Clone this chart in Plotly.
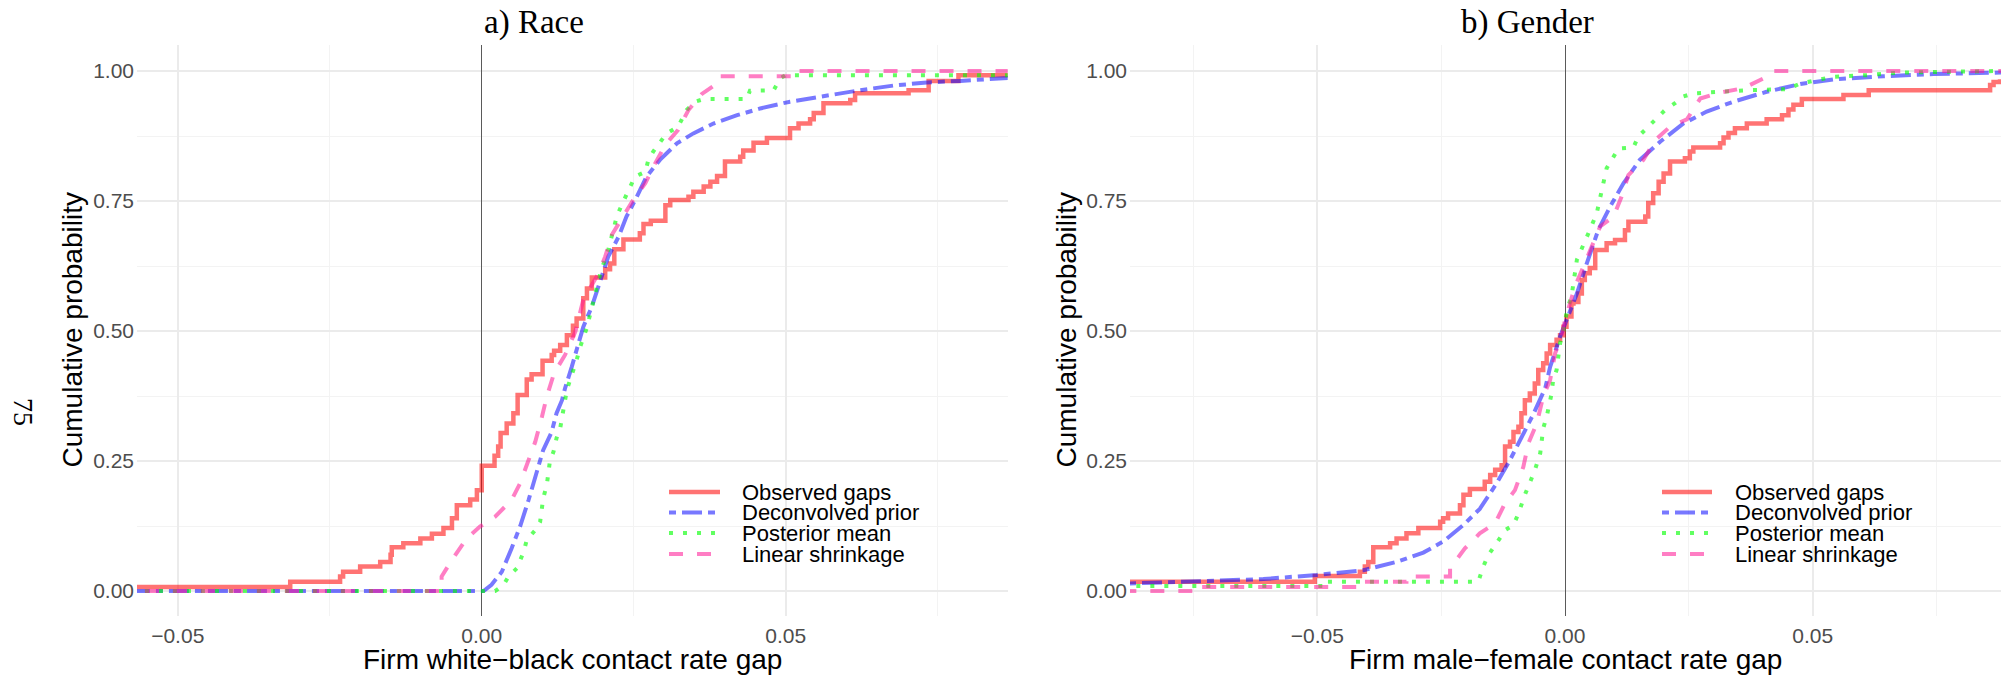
import plotly.graph_objects as go

# ---------------- data ----------------
series_names = ["Observed gaps", "Deconvolved prior", "Posterior mean", "Linear shrinkage"]

# a) Race : firm white-black contact rate gap
race_obs_x = [-0.060, -0.0315, -0.0233, -0.0228, -0.0200, -0.0167, -0.0150, -0.0148, -0.0129, -0.0101,
              -0.0082, -0.0063, -0.0049, -0.0041, -0.0019, -0.0008, 0.0000, 0.0021, 0.0027, 0.0031,
              0.0041, 0.0052, 0.0059, 0.0074, 0.0082, 0.0100, 0.0115, 0.0119, 0.0129, 0.0140,
              0.0150, 0.0156, 0.0167, 0.0173, 0.0181, 0.0203, 0.0211, 0.0218, 0.0233, 0.0260,
              0.0266, 0.0278, 0.0302, 0.0310, 0.0340, 0.0348, 0.0365, 0.0376, 0.0387, 0.0400,
              0.0425, 0.0430, 0.0447, 0.0469, 0.0507, 0.0521, 0.0540, 0.0546, 0.0562, 0.0606,
              0.0614, 0.0702, 0.0735, 0.0784, 0.0900]
race_obs_y = [0.008, 0.018, 0.028, 0.037, 0.047, 0.056, 0.070, 0.084, 0.092, 0.101,
              0.110, 0.121, 0.140, 0.165, 0.176, 0.194, 0.241, 0.260, 0.278, 0.304,
              0.322, 0.342, 0.377, 0.407, 0.417, 0.443, 0.454, 0.462, 0.473, 0.492,
              0.510, 0.524, 0.563, 0.582, 0.603, 0.619, 0.630, 0.657, 0.676, 0.688,
              0.706, 0.712, 0.742, 0.752, 0.758, 0.768, 0.778, 0.787, 0.798, 0.826,
              0.835, 0.847, 0.862, 0.871, 0.890, 0.899, 0.907, 0.919, 0.938, 0.944,
              0.957, 0.963, 0.981, 0.992, 0.992]

race_prior_x = [-0.060, 0.0003, 0.0016, 0.0033, 0.0049, 0.0063, 0.0077, 0.0090, 0.0101, 0.0115,
                0.0123, 0.0132, 0.0137, 0.0148, 0.0159, 0.0167, 0.0181, 0.0197, 0.0208, 0.0225,
                0.0238, 0.0255, 0.0271, 0.0293, 0.0321, 0.0348, 0.0381, 0.0420, 0.0458, 0.0507,
                0.0562, 0.0622, 0.0677, 0.0732, 0.0787, 0.0869]
race_prior_y = [0.0, 0.0, 0.012, 0.037, 0.082, 0.124, 0.175, 0.226, 0.271, 0.306,
                0.342, 0.367, 0.390, 0.431, 0.476, 0.508, 0.547, 0.604, 0.643, 0.681,
                0.720, 0.758, 0.797, 0.829, 0.861, 0.880, 0.899, 0.915, 0.928, 0.941,
                0.952, 0.963, 0.972, 0.978, 0.981, 0.987]

race_post_x = [-0.060, 0.0022, 0.0036, 0.0044, 0.0058, 0.0069, 0.0074, 0.0088, 0.0096, 0.0099,
               0.0101, 0.0107, 0.0112, 0.0118, 0.0123, 0.0129, 0.0137, 0.0140, 0.0156, 0.0162,
               0.0173, 0.0195, 0.0208, 0.0222, 0.0230, 0.0238, 0.0252, 0.0269, 0.0274, 0.0282,
               0.0304, 0.0323, 0.0337, 0.0351, 0.0365, 0.0436, 0.0441, 0.0480, 0.0491, 0.0500,
               0.0900]
race_post_y = [0.0, 0.0, 0.012, 0.028, 0.044, 0.076, 0.098, 0.117, 0.133, 0.156,
               0.178, 0.204, 0.249, 0.268, 0.294, 0.313, 0.361, 0.387, 0.444, 0.470,
               0.507, 0.611, 0.656, 0.720, 0.742, 0.762, 0.797, 0.806, 0.829, 0.845,
               0.880, 0.893, 0.925, 0.941, 0.946, 0.946, 0.962, 0.963, 0.986, 0.992,
               0.992]

race_lin_x = [-0.060, -0.0066, -0.0066, -0.0049, -0.0025, -0.0003, 0.0022, 0.0049, 0.0063, 0.0077,
              0.0088, 0.0099, 0.0107, 0.0119, 0.0137, 0.0154, 0.0167, 0.0192, 0.0203, 0.0214,
              0.0233, 0.0249, 0.0269, 0.0285, 0.0302, 0.0323, 0.0340, 0.0362, 0.0387, 0.0392,
              0.0513, 0.0513, 0.0900]
race_lin_y = [0.0, 0.0, 0.028, 0.060, 0.101, 0.124, 0.143, 0.175, 0.207, 0.249,
              0.287, 0.335, 0.374, 0.419, 0.454, 0.499, 0.560, 0.611, 0.643, 0.685,
              0.720, 0.752, 0.784, 0.822, 0.858, 0.887, 0.925, 0.956, 0.976, 0.990,
              0.990, 1.0, 1.0]

# b) Gender : firm male-female contact rate gap
gen_obs_x = [-0.095, -0.0505, -0.0414, -0.0404, -0.0397, -0.0387, -0.0353, -0.0340, -0.0320, -0.0296,
             -0.0252, -0.0246, -0.0236, -0.0212, -0.0205, -0.0192, -0.0162, -0.0151, -0.0141, -0.0128,
             -0.0121, -0.0111, -0.0104, -0.0094, -0.0088, -0.0081, -0.0071, -0.0061, -0.0054, -0.0044,
             -0.0037, -0.0030, -0.0017, -0.0010, -0.0003, 0.0003, 0.0013, 0.0017, 0.0027, 0.0034,
             0.0040, 0.0050, 0.0061, 0.0084, 0.0101, 0.0121, 0.0128, 0.0162, 0.0168, 0.0178,
             0.0189, 0.0199, 0.0212, 0.0242, 0.0252, 0.0259, 0.0313, 0.0320, 0.0330, 0.0343,
             0.0367, 0.0407, 0.0438, 0.0451, 0.0461, 0.0478, 0.0562, 0.0613, 0.0858, 0.0865,
             0.0878]
gen_obs_y = [0.018, 0.029, 0.037, 0.047, 0.056, 0.084, 0.092, 0.101, 0.111, 0.121,
             0.133, 0.140, 0.149, 0.165, 0.185, 0.196, 0.210, 0.223, 0.233, 0.242,
             0.278, 0.287, 0.306, 0.316, 0.342, 0.367, 0.380, 0.399, 0.425, 0.438,
             0.457, 0.473, 0.483, 0.492, 0.508, 0.528, 0.553, 0.556, 0.572, 0.598,
             0.611, 0.621, 0.656, 0.669, 0.675, 0.694, 0.710, 0.720, 0.746, 0.765,
             0.787, 0.803, 0.826, 0.832, 0.845, 0.853, 0.861, 0.872, 0.881, 0.890,
             0.899, 0.907, 0.915, 0.926, 0.935, 0.946, 0.954, 0.963, 0.973, 0.979,
             0.984]

gen_prior_x = [-0.0880, -0.0744, -0.0609, -0.0501, -0.0407, -0.0340, -0.0286, -0.0246, -0.0205, -0.0172,
               -0.0138, -0.0111, -0.0084, -0.0064, -0.0040, -0.0030, -0.0010, 0.0000, 0.0024, 0.0044,
               0.0067, 0.0091, 0.0118, 0.0151, 0.0192, 0.0239, 0.0286, 0.0340, 0.0407, 0.0475,
               0.0542, 0.0643, 0.0744, 0.0880]
gen_prior_y = [0.0145, 0.018, 0.023, 0.031, 0.040, 0.056, 0.074, 0.095, 0.127, 0.158,
               0.207, 0.252, 0.303, 0.340, 0.390, 0.431, 0.489, 0.515, 0.572, 0.630,
               0.694, 0.739, 0.784, 0.829, 0.864, 0.899, 0.922, 0.941, 0.960, 0.975,
               0.984, 0.990, 0.994, 0.997]

gen_post_x = [-0.0950, -0.0481, -0.0481, -0.0175, -0.0165, -0.0155, -0.0138, -0.0121, -0.0104, -0.0094,
              -0.0081, -0.0061, -0.0050, -0.0044, -0.0037, -0.0027, -0.0024, -0.0017, -0.0010, -0.0003,
              0.0005, 0.0013, 0.0024, 0.0040, 0.0050, 0.0064, 0.0071, 0.0077, 0.0084, 0.0108,
              0.0138, 0.0148, 0.0175, 0.0202, 0.0222, 0.0239, 0.0259, 0.0313, 0.0367, 0.0448,
              0.0475, 0.0542, 0.0609, 0.0677, 0.0880]
gen_post_y = [0.0096, 0.0096, 0.018, 0.018, 0.047, 0.069, 0.092, 0.117, 0.127, 0.149,
              0.185, 0.232, 0.265, 0.313, 0.335, 0.380, 0.406, 0.425, 0.476, 0.502,
              0.544, 0.566, 0.637, 0.675, 0.694, 0.726, 0.758, 0.778, 0.813, 0.851,
              0.853, 0.874, 0.899, 0.925, 0.938, 0.951, 0.957, 0.960, 0.963, 0.965,
              0.976, 0.989, 0.992, 0.997, 1.0]

gen_lin_x = [-0.0950, -0.0737, -0.0737, -0.0414, -0.0414, -0.0320, -0.0320, -0.0232, -0.0232, -0.0202,
             -0.0172, -0.0141, -0.0121, -0.0101, -0.0084, -0.0074, -0.0057, -0.0044, -0.0030, -0.0020,
             -0.0007, 0.0000, 0.0020, 0.0037, 0.0054, 0.0071, 0.0098, 0.0114, 0.0128, 0.0158,
             0.0182, 0.0212, 0.0246, 0.0273, 0.0306, 0.0360, 0.0401, 0.0421, 0.0900]
gen_lin_y = [0.0, 0.0, 0.008, 0.008, 0.018, 0.018, 0.028, 0.028, 0.044, 0.082,
             0.111, 0.130, 0.169, 0.194, 0.239, 0.284, 0.322, 0.374, 0.406, 0.457,
             0.489, 0.521, 0.585, 0.624, 0.662, 0.701, 0.720, 0.758, 0.800, 0.829,
             0.867, 0.893, 0.907, 0.947, 0.957, 0.967, 0.986, 1.0, 1.0]

panel_titles = ["a) Race", "b) Gender"]
x_titles = ["Firm white\u2212black contact rate gap", "Firm male\u2212female contact rate gap"]
y_title = "Cumulative probability"
page_number = "75"

# ---------------- styles ----------------
W, H = 2011, 676
colors = ["rgba(255,0,0,0.55)", "rgba(0,0,255,0.53)", "rgba(0,255,0,0.62)", "rgba(255,20,147,0.55)"]
dashes = ["solid", "7px,6px,20px,6px", "4px,10px", "14px,14px"]
shapes_ = ["hv", "linear", "linear", "linear"]
widths = [4.5, 4, 4, 4]

def fx(p):
    return p / W

def fy(p):
    return 1 - p / H

panels = [
    dict(xa="x", ya="y", dom=(137, 1007.7), xr=(-0.0567, 0.0865),
         data=[(race_obs_x, race_obs_y), (race_prior_x, race_prior_y),
               (race_post_x, race_post_y), (race_lin_x, race_lin_y)],
         title_x=534, ytitle_x=72, leg_key=(669, 720), leg_text=740),
    dict(xa="x2", ya="y2", dom=(1130, 2001), xr=(-0.0878, 0.0880),
         data=[(gen_obs_x, gen_obs_y), (gen_prior_x, gen_prior_y),
               (gen_post_x, gen_post_y), (gen_lin_x, gen_lin_y)],
         title_x=1527, ytitle_x=1066, leg_key=(1662, 1712), leg_text=1733),
]

fig = go.Figure()
for p in panels:
    for i, (xs, ys) in enumerate(p["data"]):
        fig.add_trace(go.Scatter(
            x=xs, y=ys, mode="lines", name=series_names[i], showlegend=False,
            line=dict(color=colors[i], width=widths[i], dash=dashes[i], shape=shapes_[i]),
            xaxis=p["xa"], yaxis=p["ya"], hoverinfo="skip"))

tickfont = dict(family="Liberation Sans, Arial, sans-serif", size=21, color="#4D4D4D")
grid_major = "#EBEBEB"
grid_minor = "#F3F3F3"

y_top, y_bot = 45, 616
annotations = []
shapes = []
legend_rows = [492, 512.5, 533, 554]

for k, p in enumerate(panels):
    sfx = "" if k == 0 else "2"
    fig.update_layout(**{
        "xaxis" + sfx: dict(
            domain=[fx(p["dom"][0]), fx(p["dom"][1])], range=list(p["xr"]),
            anchor="y" + sfx, dtick=0.05, tick0=0, tickformat=".2f",
            showgrid=True, gridcolor=grid_major, gridwidth=1.6,
            minor=dict(dtick=0.025, showgrid=True, gridcolor=grid_minor, gridwidth=1.1),
            zeroline=True, zerolinecolor="#5A5A5A", zerolinewidth=1.3,
            showline=False, ticks="", tickfont=tickfont, ticklabelstandoff=5, fixedrange=True),
        "yaxis" + sfx: dict(
            domain=[fy(y_bot), fy(y_top)], range=[-0.048, 1.05],
            anchor="x" + sfx, dtick=0.25, tick0=0, tickformat=".2f",
            showgrid=True, gridcolor=grid_major, gridwidth=1.6,
            minor=dict(dtick=0.125, showgrid=True, gridcolor=grid_minor, gridwidth=1.1),
            zeroline=False, showline=False, ticks="", tickfont=tickfont, ticklabelstandoff=2,
            fixedrange=True),
    })
    cx = (p["dom"][0] + p["dom"][1]) / 2
    annotations.append(dict(text=panel_titles[k], x=fx(p["title_x"]), y=fy(22), xref="paper", yref="paper",
                            xanchor="center", yanchor="middle", showarrow=False,
                            font=dict(family="Liberation Serif, serif", size=33, color="black")))
    annotations.append(dict(text=x_titles[k], x=fx(cx), y=fy(659), xref="paper", yref="paper",
                            xanchor="center", yanchor="middle", showarrow=False,
                            font=dict(family="Liberation Sans, Arial, sans-serif", size=28, color="black")))
    annotations.append(dict(text=y_title, x=fx(p["ytitle_x"]), y=fy((y_top + y_bot) / 2), xref="paper",
                            yref="paper", xanchor="center", yanchor="middle", showarrow=False, textangle=-90,
                            font=dict(family="Liberation Sans, Arial, sans-serif", size=28, color="black")))
    # legend (drawn per panel, ggplot-style inside the panel)
    for i, name in enumerate(series_names):
        shapes.append(dict(type="line", xref="paper", yref="paper",
                           x0=fx(p["leg_key"][0]), x1=fx(p["leg_key"][1]),
                           y0=fy(legend_rows[i]), y1=fy(legend_rows[i]),
                           line=dict(color=colors[i], width=widths[i], dash=dashes[i])))
        annotations.append(dict(text=name, x=fx(p["leg_text"]), y=fy(legend_rows[i]), xref="paper",
                                yref="paper", xanchor="left", yanchor="middle", showarrow=False,
                                font=dict(family="Liberation Sans, Arial, sans-serif", size=22, color="black")))

annotations.append(dict(text=page_number, x=fx(24), y=fy(412), xref="paper", yref="paper",
                        xanchor="center", yanchor="middle", showarrow=False, textangle=90,
                        font=dict(family="Liberation Serif, serif", size=28, color="black")))

fig.update_layout(width=W, height=H, margin=dict(l=0, r=0, t=0, b=0),
                  paper_bgcolor="white", plot_bgcolor="white",
                  showlegend=False, annotations=annotations, shapes=shapes)

fig.write_html("out.html", config={"displayModeBar": False},
               post_script="document.body.style.margin='0px';document.body.style.overflow='hidden';")
